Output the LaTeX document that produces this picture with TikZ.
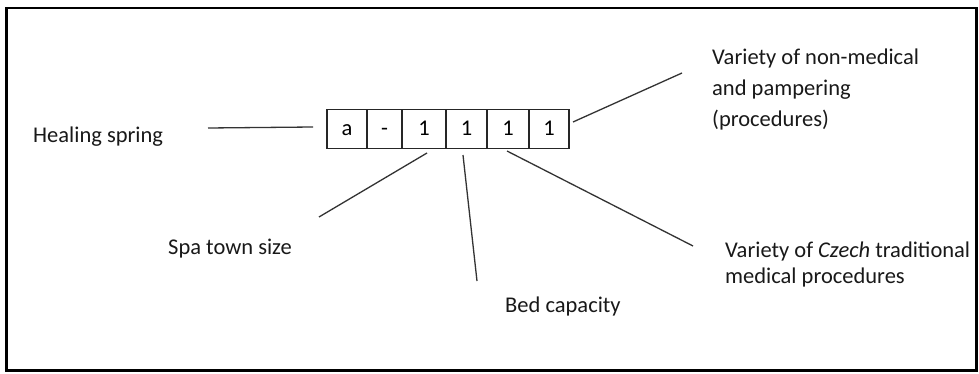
\documentclass[tikz,border=0pt]{standalone}
\usepackage{fontspec}
\setmainfont{Carlito}
\begin{document}
\begin{tikzpicture}[x=1pt,y=-1pt,
  cell/.style={draw=black!85,line width=1.3pt,minimum height=39pt,inner sep=0pt,
    text height=14pt,text depth=0pt,font=\fontsize{22.5}{26}\selectfont},
  lbl/.style={anchor=base west,inner sep=0pt,text=black!90,align=left,font=\fontsize{22.5}{31}\selectfont},
  conn/.style={draw=black!80,line width=1.3pt}]
\useasboundingbox (0,0) rectangle (979,374);
\fill[white] (0,0) rectangle (979,374);
\draw[line width=2.6pt] (6.5,8) rectangle (976.5,370.5);
% cells
\node[cell,minimum width=40pt] (c1) at (347,128.7) {a};
\node[cell,minimum width=35pt] (c2) at (384.5,128.7) {-};
\node[cell,minimum width=44pt] (c3) at (424,128.7) {1};
\node[cell,minimum width=41pt] (c4) at (466.5,128.7) {1};
\node[cell,minimum width=42pt] (c5) at (508,128.7) {1};
\node[cell,minimum width=40pt] (c6) at (549,128.7) {1};
% labels (base anchor = baseline of last line)
\node[lbl] (hs) at (33,143) {Healing spring};
\node[lbl] (nm) at (712,127) {Variety of non-medical\\and pampering\\(procedures)};
\node[lbl,font=\fontsize{22.5}{26}\selectfont] (cz) at (725,283) {Variety of \textit{Czech} traditional\\medical procedures};
\node[lbl] (bed) at (505,312) {Bed capacity};
\node[lbl] (spa) at (168,254) {Spa town size};
% connector ends
\coordinate (hsA) at (208,128);
\coordinate (hsB) at (313,127);
\coordinate (spaA) at (427,153);
\coordinate (spaB) at (319,217);
\coordinate (bedA) at (463,155);
\coordinate (bedB) at (477,281);
\coordinate (czA) at (507,151);
\coordinate (czB) at (693,246);
\coordinate (nmA) at (573,122);
\coordinate (nmB) at (682,73);
\draw[conn] (hsA) -- (hsB);
\draw[conn] (spaA) -- (spaB);
\draw[conn] (bedA) -- (bedB);
\draw[conn] (czA) -- (czB);
\draw[conn] (nmA) -- (nmB);
\end{tikzpicture}
\end{document}
